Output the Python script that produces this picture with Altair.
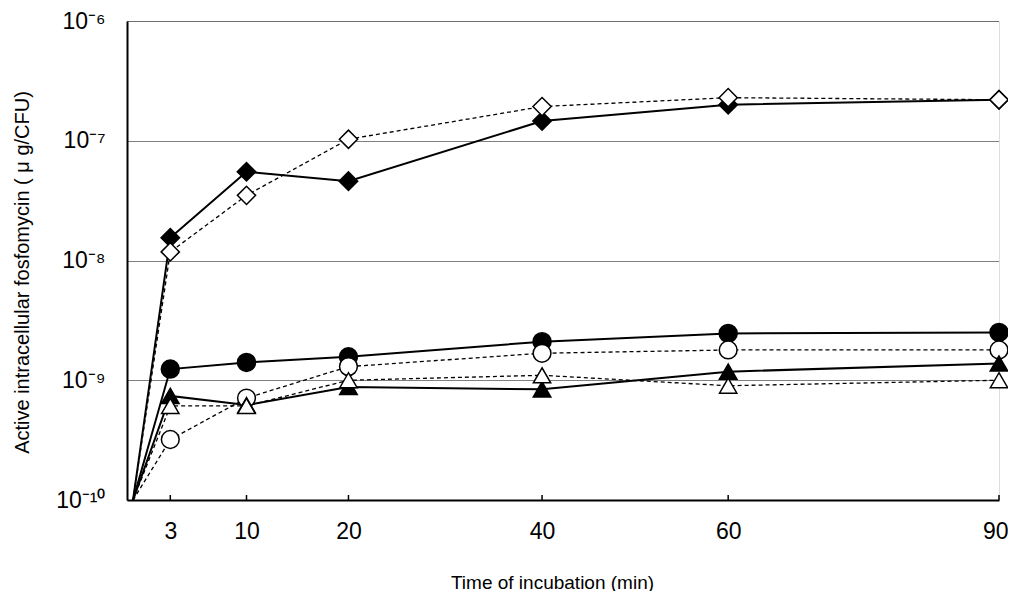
import altair as alt
import pandas as pd

# ---- data ----
times = [0, 3, 10, 20, 40, 60, 90]
tick_values = [3, 10, 20, 40, 60, 90]

series_names = ["fill_diamond", "open_diamond", "fill_circle", "open_circle", "fill_triangle", "open_triangle"]
series_shapes = ["diamond", "diamond", "circle", "circle", "triangle-up", "triangle-up"]
series_filled = [True, False, True, False, True, False]
series_dashed = [False, True, False, True, False, True]
series_sizes = [340, 300, 420, 380, 290, 290]

fill_diamond = [1e-10, 1.55e-8, 5.5e-8, 4.6e-8, 1.46e-7, 2.0e-7, 2.2e-7]
open_diamond = [1e-10, 1.18e-8, 3.5e-8, 1.03e-7, 1.93e-7, 2.29e-7, 2.2e-7]
fill_circle = [1e-10, 1.24e-9, 1.41e-9, 1.57e-9, 2.1e-9, 2.46e-9, 2.51e-9]
open_circle = [1e-10, 3.2e-10, 7.1e-10, 1.3e-9, 1.68e-9, 1.79e-9, 1.79e-9]
fill_triangle = [1e-10, 7.4e-10, 6.2e-10, 8.8e-10, 8.4e-10, 1.18e-9, 1.38e-9]
open_triangle = [1e-10, 6.1e-10, 6.1e-10, 1.0e-9, 1.1e-9, 9.0e-10, 1.0e-9]

series_values = [fill_diamond, open_diamond, fill_circle, open_circle, fill_triangle, open_triangle]

rows = []
for name, filled, dashed, vals in zip(series_names, series_filled, series_dashed, series_values):
    for t, v in zip(times, vals):
        rows.append({"series": name, "x": t, "y": v,
                     "fill": "filled" if filled else "open",
                     "dash": "dashed" if dashed else "solid"})
df = pd.DataFrame(rows)
ticks_df = pd.DataFrame({"x": tick_values})

FONT = "Liberation Sans"

xscale = alt.Scale(type="pow", exponent=0.925, domain=[-0.42, 90], nice=False, zero=False)
yscale = alt.Scale(type="log", domain=[1e-10, 1e-6], nice=False)

label_expr = ("round(log(datum.value)/LN10) == -6 ? '10\u207b\u2076' : "
              "round(log(datum.value)/LN10) == -7 ? '10\u207b\u2077' : "
              "round(log(datum.value)/LN10) == -8 ? '10\u207b\u2078' : "
              "round(log(datum.value)/LN10) == -9 ? '10\u207b\u2079' : "
              "'10\u207b\u00b9\u2070'")

x_enc = alt.X("x:Q", scale=xscale,
              axis=alt.Axis(values=tick_values, title="Time of incubation (min)",
                            grid=False, ticks=False, domainColor="black", domainWidth=2,
                            labelFontSize=23, labelFont=FONT, labelColor="black",
                            labelPadding=20, titleFont=FONT, titleFontSize=19,
                            titleFontWeight="normal", titleColor="black",
                            titleX=425, titleY=82, titleBaseline="middle",
                            labelFlush=True, labelFlushOffset=9))
y_enc = alt.Y("y:Q", scale=yscale,
              axis=alt.Axis(values=[1e-10, 1e-9, 1e-8, 1e-7, 1e-6], labelExpr=label_expr,
                            title="Active intracellular fosfomycin ( \u03bc g/CFU)",
                            grid=True, gridColor="black", gridDash=[1, 1], gridWidth=1,
                            gridOpacity=1, ticks=False, domainColor="black", domainWidth=2,
                            labelFontSize=23, labelFont=FONT, labelColor="black",
                            labelPadding=22, labelBaseline="middle", labelFlush=False,
                            titleFont=FONT, titleFontSize=20, titleFontWeight="normal",
                            titleColor="black", titleX=-105, titleY=251,
                            titleBaseline="middle", titleAlign="center", titleAngle=270))

solid_lines = alt.Chart(df).transform_filter(alt.datum.dash == "solid").mark_line(
    color="black", strokeWidth=2).encode(x=x_enc, y=y_enc, detail="series:N",
                                         order="x:Q")
dashed_lines = alt.Chart(df).transform_filter(alt.datum.dash == "dashed").mark_line(
    color="black", strokeWidth=1.3, strokeDash=[4, 3]).encode(
    x=alt.X("x:Q", scale=xscale), y=alt.Y("y:Q", scale=yscale), detail="series:N",
    order="x:Q")

points = alt.Chart(df).transform_filter(alt.datum.x > 0).mark_point(
    filled=True, stroke="black", strokeWidth=1.5, opacity=1).encode(
    x=alt.X("x:Q", scale=xscale), y=alt.Y("y:Q", scale=yscale),
    shape=alt.Shape("series:N", scale=alt.Scale(domain=series_names, range=series_shapes), legend=None),
    fill=alt.Fill("fill:N", scale=alt.Scale(domain=["filled", "open"], range=["black", "white"]), legend=None),
    size=alt.Size("series:N", scale=alt.Scale(domain=series_names, range=series_sizes), legend=None),
)

tick_marks = alt.Chart(ticks_df).mark_rule(color="black", strokeWidth=1.5).encode(
    x=alt.X("x:Q", scale=xscale), y=alt.value(479), y2=alt.value(474))

chart = alt.layer(dashed_lines, solid_lines, tick_marks, points).properties(
    width=872, height=479,
    padding={"left": 119, "top": 13, "right": 9, "bottom": 91},
    autosize=alt.AutoSizeParams(type="none"),
).configure_view(stroke=None).configure(background="white")

chart.save("out.html", embed_options={"renderer": "svg", "actions": False})
